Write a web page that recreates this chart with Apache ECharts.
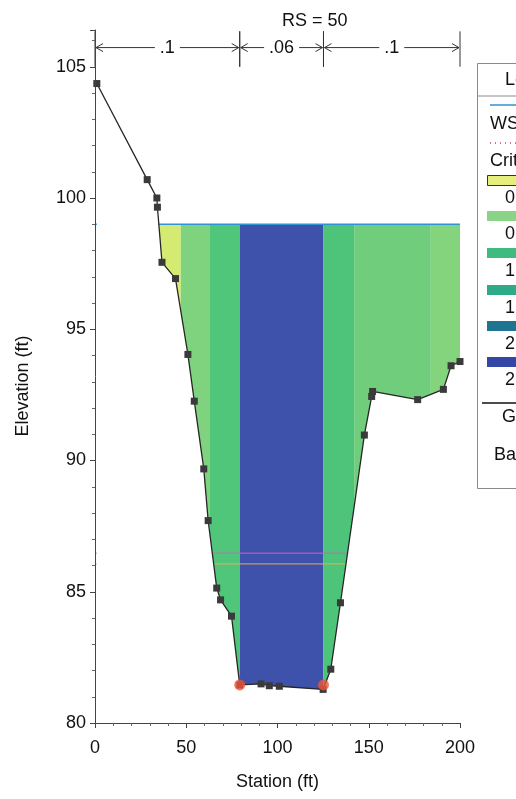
<!DOCTYPE html>
<html>
<head>
<meta charset="utf-8">
<script src="https://cdn.jsdelivr.net/npm/echarts@6/dist/echarts.min.js"></script>
<style>
html,body{margin:0;padding:0;background:#fff;}
#chart{width:516px;height:799px;}
</style>
</head>
<body>
<div id="chart"></div>
<script>
// ---- data ----
const groundSta  = [1, 28.6, 33.9, 34.2, 36.7, 44.1, 50.9, 54.4, 59.6, 62.0, 66.7, 68.8, 74.8, 79.3, 91.0, 95.5, 101.0, 125.0, 129.2, 134.5, 147.6, 151.6, 152.1, 176.8, 190.9, 195.1, 200];
const groundElev = [104.36, 100.7, 100.0, 99.65, 97.55, 96.93, 94.04, 92.26, 89.68, 87.71, 85.14, 84.69, 84.07, 81.45, 81.49, 81.42, 81.40, 81.28, 82.05, 84.58, 90.97, 92.44, 92.63, 92.32, 92.71, 93.61, 93.77];
const bankSta  = [79.3, 125.2];
const bankElev = [81.45, 81.45];
const wsElev = 99.0;
const critElev = 86.47;
const lowerLineElev = 86.06;
const velStart = [35, 47, 63, 79.3, 125.2, 142, 184];
const velEnd   = [47, 63, 79.3, 125.2, 142, 184, 200];
const nStart = [0, 79.3, 125.2];
const nEnd   = [79.3, 125.2, 200];
const nVal   = ['.1', '.06', '.1'];
const legendVel = ['0.0 ft/s', '0.5 ft/s', '1.0 ft/s', '1.5 ft/s', '2.0 ft/s', '2.5 ft/s'];
const xTicks = [0, 50, 100, 150, 200];
const yTicks = [80, 85, 90, 95, 100, 105];

// ---- styles ----
const velColors = ['#d5ea70', '#7fd27e', '#4fc67a', '#3e51ab', '#4dc47a', '#6fcd7b', '#84d47e'];
const legendColors = ['#e6ef7c', '#8ad488', '#3fbb80', '#2faa88', '#1f7491', '#3447a6'];
const FONT = '"Liberation Sans", Arial, sans-serif';

const series = [];
velStart.forEach((s, i) => {
  series.push({
    type: 'line', silent: true, z: 1, symbol: 'none',
    data: [[s, wsElev], [velEnd[i], wsElev]],
    lineStyle: { width: 0 },
    areaStyle: { color: velColors[i], opacity: 1, origin: 'start' }
  });
});
series.push({
  name: 'WS PF 1', type: 'line', silent: true, z: 2, symbol: 'none',
  data: [[0, wsElev], [200, wsElev]],
  lineStyle: { color: '#2f93d6', width: 1.5 }
});
series.push({
  name: 'Crit PF 1', type: 'line', silent: true, z: 2, symbol: 'none',
  data: [[0, critElev], [200, critElev]],
  lineStyle: { color: '#d95cc8', width: 1 }
});
series.push({
  type: 'line', silent: true, z: 2, symbol: 'none',
  data: [[0, lowerLineElev], [200, lowerLineElev]],
  lineStyle: { color: '#e2b060', width: 1 }
});
// white mask below ground
series.push({
  type: 'line', silent: true, z: 3, symbol: 'none',
  data: groundSta.map((s, i) => [s, groundElev[i]]),
  lineStyle: { width: 0 },
  areaStyle: { color: '#ffffff', opacity: 1, origin: 'start' }
});
series.push({
  name: 'Ground', type: 'line', z: 4, symbol: 'rect', symbolSize: 7, showAllSymbol: true,
  data: groundSta.map((s, i) => [s, groundElev[i]]),
  lineStyle: { color: '#262626', width: 1.3 },
  itemStyle: { color: '#3a3a3a' }
});
series.push({
  name: 'Bank Sta', type: 'scatter', z: 5, symbol: 'circle', symbolSize: 11,
  data: bankSta.map((s, i) => [s, bankElev[i]]),
  itemStyle: { color: '#f0553a' }
});
series.push({
  type: 'custom', z: 6, silent: true, clip: false,
  data: nStart.map((s, i) => [s, nEnd[i]]),
  encode: { x: [0, 1] },
  renderItem: function (params, api) {
    const i = params.dataIndex;
    const pL = api.coord([api.value(0), 105.73]);
    const pR = api.coord([api.value(1), 105.73]);
    const tL = api.coord([api.value(0), 105.0]);
    const tT = api.coord([api.value(0), 106.35]);
    const tR = api.coord([api.value(1), 105.0]);
    const y = pL[1];
    const st = { stroke: '#333', lineWidth: 1, fill: null };
    return {
      type: 'group',
      children: [
        { type: 'line', shape: { x1: pL[0] + 1, y1: y, x2: pR[0] - 1, y2: y }, style: st },
        { type: 'polyline', shape: { points: [[pL[0] + 8, y - 4], [pL[0] + 1, y], [pL[0] + 8, y + 4]] }, style: st },
        { type: 'polyline', shape: { points: [[pR[0] - 8, y - 4], [pR[0] - 1, y], [pR[0] - 8, y + 4]] }, style: st },
        { type: 'line', shape: { x1: tL[0], y1: tL[1], x2: tL[0], y2: tT[1] }, style: st },
        { type: 'line', shape: { x1: tR[0], y1: tR[1], x2: tR[0], y2: tT[1] }, style: st },
        { type: 'text', x: (pL[0] + pR[0]) / 2, y: y,
          style: { text: nVal[i], align: 'center', verticalAlign: 'middle', textAlign: 'center', textVerticalAlign: 'middle',
                   fontSize: 18, fontFamily: FONT, fill: '#111', backgroundColor: '#fff', padding: [0, 5] } }
      ]
    };
  }
});

// legend graphic (cut off at right edge like the reference)
const g = [];
g.push({ type: 'rect', left: 477, top: 63, shape: { width: 80, height: 425 }, style: { fill: '#fff', stroke: '#8a8a8a', lineWidth: 1 }, z: 100 });
g.push({ type: 'text', left: 505, top: 71, style: { text: 'Legend', font: '18px ' + FONT, fill: '#111' }, z: 101 });
g.push({ type: 'line', shape: { x1: 477, y1: 96, x2: 560, y2: 96 }, style: { stroke: '#8a8a8a', lineWidth: 1 }, z: 101 });
g.push({ type: 'line', shape: { x1: 490, y1: 105, x2: 560, y2: 105 }, style: { stroke: '#2f93d6', lineWidth: 1.5 }, z: 101 });
g.push({ type: 'text', left: 490, top: 115, style: { text: 'WS PF 1', font: '18px ' + FONT, fill: '#111' }, z: 101 });
g.push({ type: 'line', shape: { x1: 490, y1: 143, x2: 560, y2: 143 }, style: { stroke: '#c04080', lineWidth: 1.5, lineDash: [1, 4] }, z: 101 });
g.push({ type: 'text', left: 490, top: 152, style: { text: 'Crit PF 1', font: '18px ' + FONT, fill: '#111' }, z: 101 });
const swY = [175, 211, 248, 285, 321, 357];
legendVel.forEach((t, i) => {
  g.push({ type: 'rect', left: 487, top: swY[i], shape: { width: 70, height: 10 },
           style: { fill: legendColors[i], stroke: i === 0 ? '#333' : null, lineWidth: 1 }, z: 101 });
  g.push({ type: 'text', left: 505, top: swY[i] + 14, style: { text: t, font: '18px ' + FONT, fill: '#111' }, z: 101 });
});
g.push({ type: 'line', shape: { x1: 482, y1: 403, x2: 560, y2: 403 }, style: { stroke: '#111', lineWidth: 1.5 }, z: 101 });
g.push({ type: 'text', left: 502, top: 408, style: { text: 'Ground', font: '18px ' + FONT, fill: '#111' }, z: 101 });
g.push({ type: 'text', left: 494, top: 446, style: { text: 'Bank Sta', font: '18px ' + FONT, fill: '#111' }, z: 101 });
// y axis title
g.push({ type: 'text', x: 23, y: 386, rotation: Math.PI / 2,
         style: { text: 'Elevation (ft)', align: 'center', verticalAlign: 'middle', font: '18px ' + FONT, fill: '#111' }, z: 101 });

const chart = echarts.init(document.getElementById('chart'), null, { renderer: 'canvas' });
chart.setOption({
  animation: false,
  backgroundColor: '#fff',
  title: { text: 'RS = 50', left: 277, top: 7, textStyle: { fontSize: 18, fontWeight: 'normal', fontFamily: FONT, color: '#111' } },
  grid: { left: 95, right: 56, top: 30, bottom: 76 },
  xAxis: {
    type: 'value', min: xTicks[0], max: xTicks[xTicks.length - 1], interval: 50, z: 10,
    name: 'Station (ft)', nameLocation: 'middle', nameGap: 50,
    nameTextStyle: { fontSize: 18, fontFamily: FONT, color: '#111' },
    axisLine: { lineStyle: { color: '#444', width: 1 } },
    axisTick: { length: 5, lineStyle: { color: '#444' } },
    minorTick: { show: true, splitNumber: 5, length: 3, lineStyle: { color: '#666' } },
    axisLabel: { fontSize: 18, fontFamily: FONT, color: '#111', margin: 16 },
    splitLine: { show: false }
  },
  yAxis: {
    type: 'value', min: yTicks[0], max: 106.4, interval: 5, z: 10,
    axisLine: { show: true, lineStyle: { color: '#444', width: 1 } },
    axisTick: { show: true, length: 5, lineStyle: { color: '#444' } },
    minorTick: { show: true, splitNumber: 5, length: 3, lineStyle: { color: '#666' } },
    axisLabel: { fontSize: 18, fontFamily: FONT, color: '#111', margin: 9, showMaxLabel: false },
    splitLine: { show: false }
  },
  series: series,
  graphic: g
});
</script>
</body>
</html>
